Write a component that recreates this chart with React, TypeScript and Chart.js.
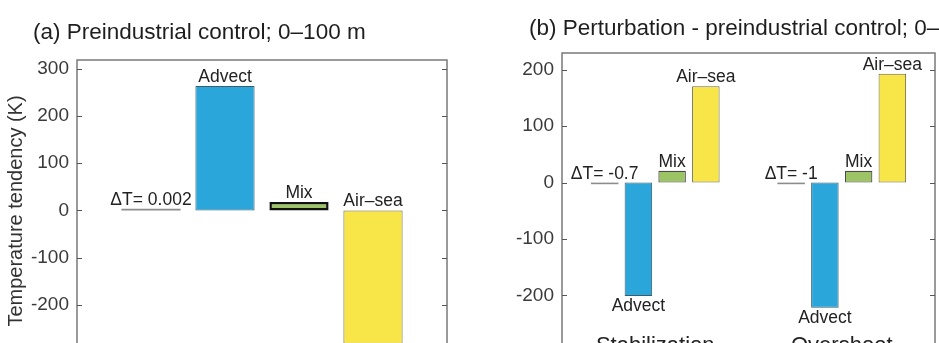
import React, { useEffect, useRef } from "react";
import { Chart, registerables } from "chart.js";

Chart.register(...registerables);

const FONT = "'Liberation Sans', Arial, Helvetica, sans-serif";

// ---- Panel (a): preindustrial control ----
const controlCategories = ["Preindustrial control"];
const controlDeltaT = [0.002];
const controlAdvect = [264];
const controlMix = [18];
const controlAirSea = [-283];
const controlTicks = [300, 200, 100, 0, -100, -200];

// ---- Panel (b): perturbation - control ----
const scenarioCategories = ["Stabilization", "Overshoot"];
const pertDeltaT = [-0.7, -1];
const pertAdvect = [-201, -222];
const pertMix = [21, 21];
const pertAirSea = [171, 193];
const pertTicks = [200, 100, 0, -100, -200];

const termNames = ["Advect", "Mix", "Air–sea"];

const BLUE = "#2ba6da";
const GREEN = "#9dc464";
const YELLOW = "#f8e547";
const GRAY = "#8c8c8c";

const decorPlugin = {
  id: "panelDecor",
  afterDatasetsDraw(chart: any, _args: any, opts: any) {
    const ctx = chart.ctx;
    const { left, top, right, bottom } = chart.chartArea;
    const ys = chart.scales.y;
    const xs = chart.scales.x;
    ctx.save();
    // frame (bottom is outside the picture)
    ctx.strokeStyle = "#7a7a7a";
    ctx.lineWidth = 1.5;
    ctx.beginPath();
    ctx.moveTo(left, bottom + 2);
    ctx.lineTo(left, top);
    ctx.lineTo(right, top);
    ctx.lineTo(right, bottom + 2);
    ctx.stroke();
    // inward tick marks
    ctx.strokeStyle = "#555";
    ctx.lineWidth = 1;
    ys.ticks.forEach((t: any) => {
      const py = Math.round(ys.getPixelForValue(t.value)) + 0.5;
      ctx.beginPath();
      ctx.moveTo(left, py);
      ctx.lineTo(left + 5, py);
      ctx.moveTo(right, py);
      ctx.lineTo(right - 5, py);
      ctx.stroke();
    });
    // bar labels
    ctx.fillStyle = "#222";
    ctx.font = `17.5px ${FONT}`;
    ctx.textAlign = "center";
    chart.data.datasets.forEach((ds: any, i: number) => {
      const meta = chart.getDatasetMeta(i);
      meta.data.forEach((el: any, j: number) => {
        const text = ds.barLabels[j];
        const p = el.getProps(["x", "y", "base"], true);
        const topPx = Math.min(p.y, p.base);
        const botPx = Math.max(p.y, p.base);
        const below = opts.belowNegative && ds.data[j] < -10;
        if (below) {
          ctx.textBaseline = "top";
          ctx.fillText(text, p.x, botPx + 2);
        } else {
          ctx.textBaseline = "alphabetic";
          ctx.fillText(text, p.x, topPx - 4);
        }
      });
    });
    // group labels inside the plot
    if (opts.groupLabels) {
      ctx.font = `22px ${FONT}`;
      ctx.textBaseline = "alphabetic";
      opts.groupLabels.forEach((g: string, j: number) => {
        ctx.fillText(g, xs.getPixelForValue(j), ys.getPixelForValue(opts.groupLabelValue));
      });
    }
    // title
    ctx.fillStyle = "#1e1e1e";
    ctx.font = `22.5px ${FONT}`;
    ctx.textAlign = "left";
    ctx.textBaseline = "alphabetic";
    ctx.fillText(opts.title, opts.titleX, opts.titleY);
    // y-axis title
    if (opts.yTitle) {
      ctx.save();
      ctx.translate(opts.yTitleX, opts.yTitleY);
      ctx.rotate(-Math.PI / 2);
      ctx.textAlign = "center";
      ctx.textBaseline = "middle";
      ctx.fillStyle = "#333";
      ctx.font = `20px ${FONT}`;
      ctx.fillText(opts.yTitle, 0, 0);
      ctx.restore();
    }
    ctx.restore();
  },
};

function makeDatasets(dT: number[], adv: number[], mix: number[], air: number[], mixBorder: string, mixBw: number) {
  return [
    {
      label: "ΔT",
      data: dT,
      backgroundColor: GRAY,
      borderWidth: 0,
      minBarLength: 1.6,
      barLabels: dT.map((v) => `ΔT= ${v}`),
    },
    {
      label: termNames[0],
      data: adv,
      backgroundColor: BLUE,
      borderColor: "#3a5d6e",
      borderWidth: 1,
      borderSkipped: false,
      barLabels: adv.map(() => termNames[0]),
    },
    {
      label: termNames[1],
      data: mix,
      backgroundColor: GREEN,
      borderColor: mixBorder,
      borderWidth: mixBw,
      borderSkipped: false,
      barLabels: mix.map(() => termNames[1]),
    },
    {
      label: termNames[2],
      data: air,
      backgroundColor: YELLOW,
      borderColor: "#6e6a4a",
      borderWidth: 1,
      borderSkipped: false,
      barLabels: air.map(() => termNames[2]),
    },
  ];
}

function Panel(props: any) {
  const ref = useRef<HTMLCanvasElement>(null);
  useEffect(() => {
    if (!ref.current) return;
    const p = props;
    const chart = new Chart(ref.current, {
      type: "bar",
      data: { labels: p.categories, datasets: p.datasets },
      plugins: [decorPlugin],
      options: {
        responsive: false,
        animation: false,
        layout: { padding: { left: 0, top: p.padTop, right: p.padRight, bottom: 0 } },
        datasets: { bar: { categoryPercentage: p.catPct, barPercentage: p.barPct } },
        scales: {
          x: { type: "category", display: false, offset: true },
          y: {
            type: "linear",
            min: p.yMin,
            max: p.yMax,
            afterBuildTicks: (s: any) => {
              s.ticks = p.ticks.map((v: number) => ({ value: v }));
            },
            afterFit: (s: any) => {
              s.width = p.axisW;
              s.paddingTop = 0;
              s.paddingBottom = 0;
            },
            grid: { display: false, drawTicks: false },
            border: { display: false },
            ticks: {
              autoSkip: false,
              padding: 8,
              color: "#3a3a3a",
              font: { size: 19, family: FONT },
            },
          },
        },
        plugins: {
          legend: { display: false },
          tooltip: { enabled: false },
          panelDecor: p.decor,
        } as any,
      } as any,
    });
    return () => chart.destroy();
  }, []);
  return (
    <canvas
      ref={ref}
      width={props.width}
      height={343}
      style={{ position: "absolute", left: props.left, top: 0, width: props.width, height: 343 }}
    />
  );
}

export default function App() {
  useEffect(() => {
    document.body.style.margin = "0";
    document.body.style.background = "#fff";
  }, []);
  return (
    <div style={{ position: "relative", width: 939, height: 343, overflow: "hidden", background: "#fff" }}>
      <Panel
        left={0}
        width={470}
        categories={controlCategories}
        datasets={makeDatasets(controlDeltaT, controlAdvect, controlMix, controlAirSea, "#111", 2.5)}
        padTop={60}
        padRight={23}
        axisW={77}
        yMin={-281.3}
        yMax={319}
        ticks={controlTicks}
        catPct={0.8}
        barPct={0.8}
        decor={{
          belowNegative: false,
          title: "(a) Preindustrial control; 0–100 m",
          titleX: 33,
          titleY: 39,
          yTitle: "Temperature tendency (K)",
          yTitleX: 16,
          yTitleY: 211,
        }}
      />
      <Panel
        left={470}
        width={469}
        categories={scenarioCategories}
        datasets={makeDatasets(pertDeltaT, pertAdvect, pertMix, pertAirSea, "#4a4a4a", 1.2)}
        padTop={53}
        padRight={4}
        axisW={92}
        yMin={-284.6}
        yMax={230}
        ticks={pertTicks}
        catPct={0.7234}
        barPct={0.816}
        decor={{
          belowNegative: true,
          groupLabels: scenarioCategories,
          groupLabelValue: -300,
          title: "(b) Perturbation - preindustrial control; 0–100 m",
          titleX: 59,
          titleY: 35,
        }}
      />
    </div>
  );
}
